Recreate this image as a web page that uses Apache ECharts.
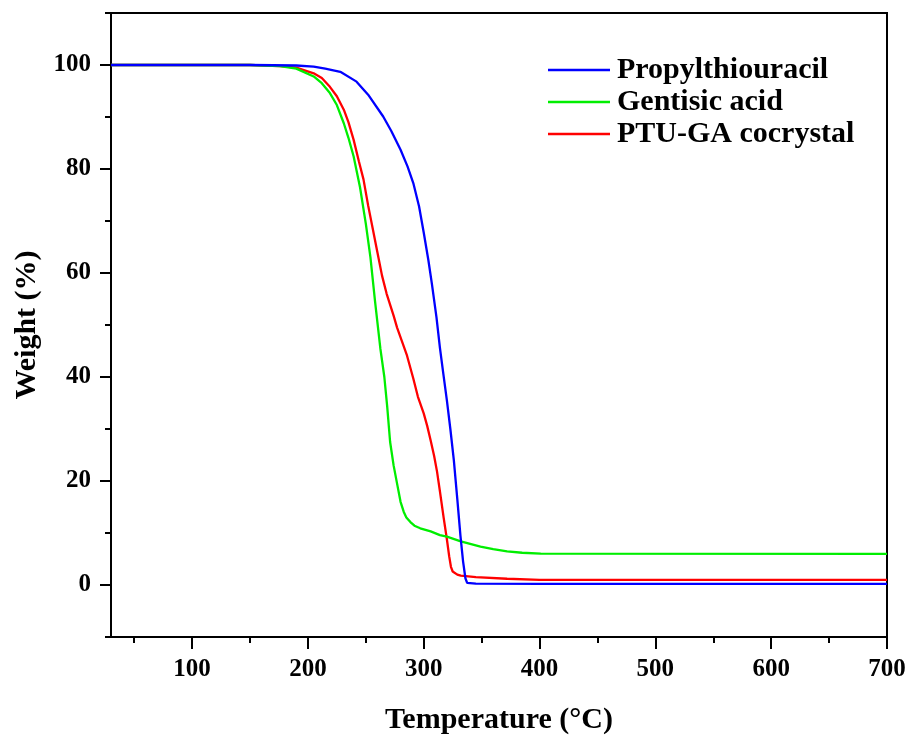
<!DOCTYPE html>
<html>
<head>
<meta charset="utf-8">
<script src="https://cdn.jsdelivr.net/npm/echarts@6/dist/echarts.min.js"></script>
<style>html,body{margin:0;padding:0;background:#fff}#c{width:910px;height:736px}</style>
</head>
<body>
<div id="c"></div>
<script>
var seriesNames = ['Propylthiouracil', 'Gentisic acid', 'PTU-GA cocrystal'];
var seriesColors = ['#0000ff', '#00ee00', '#ff0000'];

var ptu = [[30,100],[150,100],[190,99.9],[205,99.7],[215,99.3],[228,98.7],[242,96.8],[252,94.3],[265,90.1],[272,87.3],[280,83.7],[286,80.5],[291,77.3],[296,72.8],[300,67.8],[304,62.5],[307,58],[311,51.5],[314,45.6],[317,40.5],[320,35.5],[323,30],[326,24],[329,16.5],[331.7,9.5],[334,4.5],[336,1.3],[337.5,0.4],[345,0.25],[400,0.2],[700,0.2]];

var ga = [[30,100],[150,100],[176,99.8],[190,99.3],[205,97.8],[212,96.5],[219,94.6],[225,92.3],[231,88.8],[235,86],[239.5,82.4],[245,76.5],[250,69.5],[254,63],[258,54.5],[262.6,45.4],[266,40],[268.4,34.5],[271,27.5],[274,23],[277,19.5],[280,16],[282.7,14.1],[285,13],[288.5,12.1],[292,11.4],[297,10.9],[306,10.3],[314,9.6],[320,9.3],[332,8.4],[349,7.4],[360,6.9],[372,6.45],[385,6.2],[401,6.05],[700,6.0]];

var cocrystal = [[30,100],[150,100],[176,99.8],[190,99.5],[205,98.4],[212,97.5],[219,95.8],[225,94],[231,91.4],[235,89],[239.5,85.6],[244,81.5],[248,78],[252,73],[256,68.5],[260,64],[264,59.5],[268,56],[274,51.8],[277,49.5],[281,47],[285.6,44.1],[291,39.7],[295,36.2],[300,33],[303,30.6],[306,27.8],[309,24.8],[311.5,21.8],[314,18],[317.3,12.8],[320,8.8],[322,5.5],[323.5,3.5],[325,2.6],[329,2.0],[332,1.8],[345,1.5],[372,1.2],[400,1.0],[700,1.0]];

var xMajorTicks = [100,200,300,400,500,600,700];
var xMinorTicks = [50,150,250,350,450,550,650];
var yMajorTicks = [0,20,40,60,80,100];
var yMinorTicks = [-10,10,30,50,70,90,110];

var FONT = "'Liberation Serif','Times New Roman',serif";
var chart = echarts.init(document.getElementById('c'), null, {renderer:'canvas'});
var seriesData = [ptu, ga, cocrystal];

chart.setOption({
  animation: false,
  backgroundColor: '#fff',
  grid: {left: 111, right: 23, top: 13, bottom: 99, show: true, borderColor: '#000', borderWidth: 2, backgroundColor: 'transparent', containLabel: false, outerBoundsMode: 'none'},
  legend: {
    data: seriesNames,
    orient: 'vertical',
    left: 543, top: 50,
    icon: 'rect',
    itemWidth: 62, itemHeight: 2.5, itemGap: 2,
    textStyle: {fontFamily: FONT, fontWeight: 'bold', fontSize: 30, color: '#000', padding: [0,0,0,2]}
  },
  xAxis: [{
    type: 'value', min: 30, max: 700, position: 'bottom',
    name: 'Temperature (\u00b0C)', nameLocation: 'middle', nameGap: 68,
    nameTextStyle: {fontFamily: FONT, fontWeight: 'bold', fontSize: 30, color: '#000'},
    axisLine: {show: true, onZero: false, lineStyle: {color: '#000', width: 2}},
    axisTick: {show: true, inside: false, length: 12, customValues: xMajorTicks, lineStyle: {color: '#000', width: 2}},
    axisLabel: {show: true, customValues: xMajorTicks, margin: 20, fontFamily: FONT, fontWeight: 'bold', fontSize: 25, color: '#000'},
    splitLine: {show: false}
  },{
    type: 'value', min: 30, max: 700, position: 'bottom',
    axisLine: {show: false, onZero: false},
    axisTick: {show: true, inside: false, length: 6, customValues: xMinorTicks, lineStyle: {color: '#000', width: 2}},
    axisLabel: {show: false},
    splitLine: {show: false}
  }],
  yAxis: [{
    type: 'value', min: -10, max: 110, position: 'left',
    name: 'Weight (%)', nameLocation: 'middle', nameGap: 68, nameRotate: 90,
    nameTextStyle: {fontFamily: FONT, fontWeight: 'bold', fontSize: 30, color: '#000'},
    axisLine: {show: true, onZero: false, lineStyle: {color: '#000', width: 2}},
    axisTick: {show: true, inside: false, length: 11, customValues: yMajorTicks, lineStyle: {color: '#000', width: 2}},
    axisLabel: {show: true, customValues: yMajorTicks, margin: 20, fontFamily: FONT, fontWeight: 'bold', fontSize: 25, color: '#000'},
    splitLine: {show: false}
  },{
    type: 'value', min: -10, max: 110, position: 'left',
    axisLine: {show: false, onZero: false},
    axisTick: {show: true, inside: false, length: 6, customValues: yMinorTicks, lineStyle: {color: '#000', width: 2}},
    axisLabel: {show: false},
    splitLine: {show: false}
  }],
  series: seriesNames.map(function(n, i){
    return {
      name: n, type: 'line', xAxisIndex: 0, yAxisIndex: 0,
      data: seriesData[i], showSymbol: false, symbol: 'none',
      smooth: false,
      lineStyle: {color: seriesColors[i], width: 2.3},
      itemStyle: {color: seriesColors[i]},
      z: 3 - i
    };
  })
});
</script>
</body>
</html>
